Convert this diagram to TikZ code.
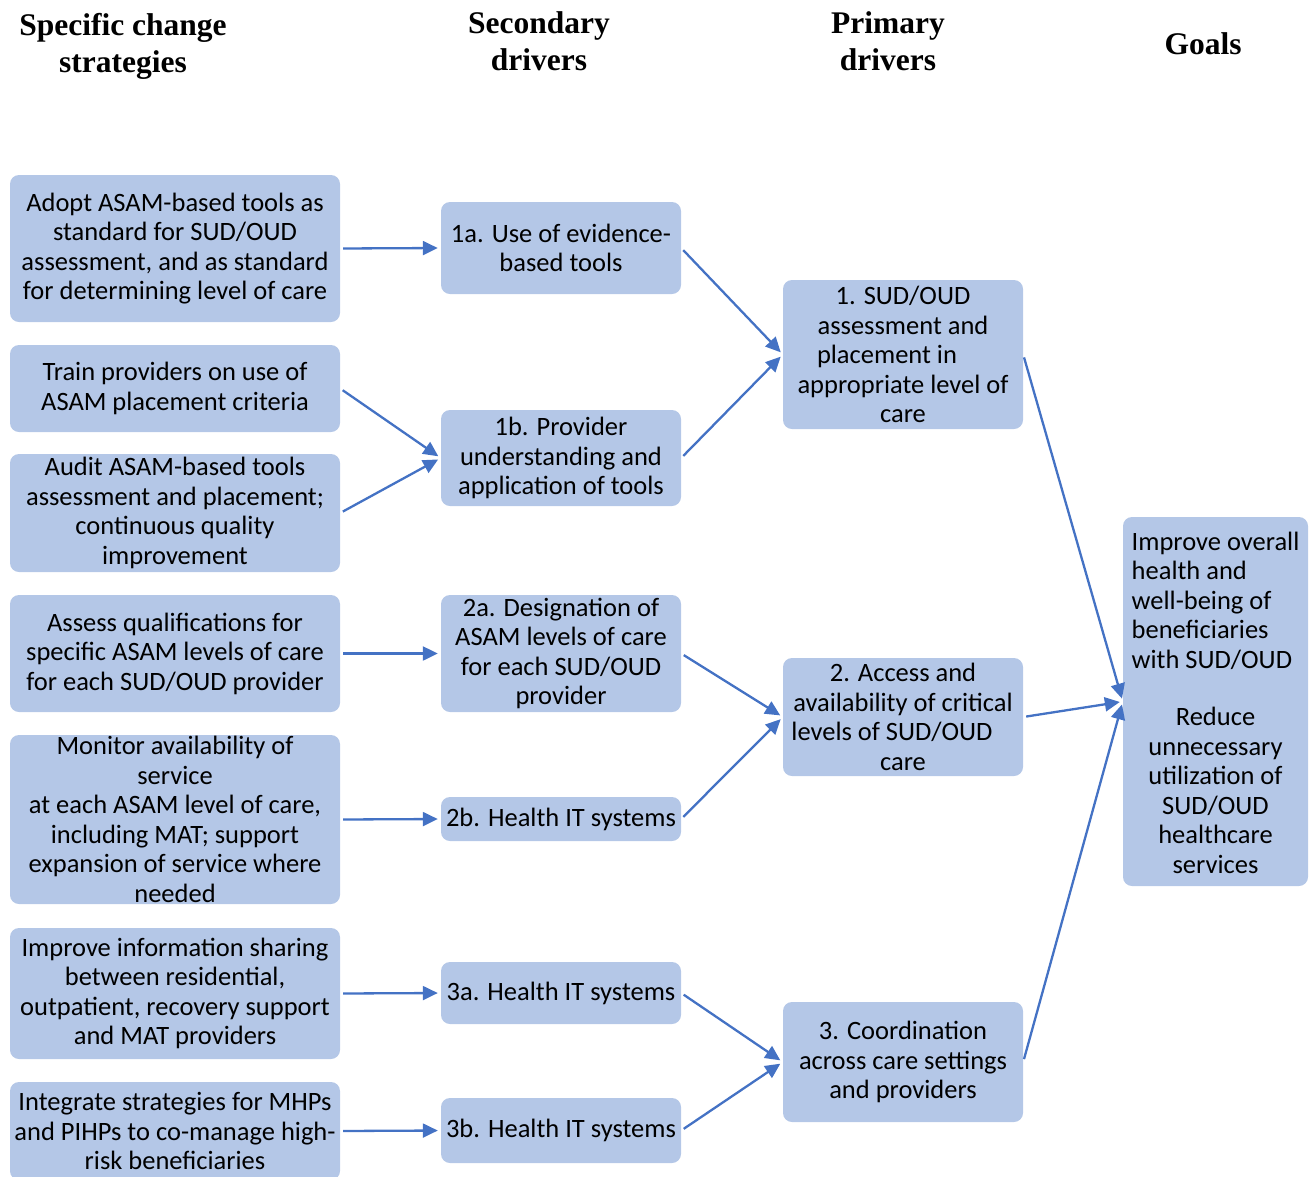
\documentclass[tikz,border=0pt]{standalone}
\usepackage{fontspec}
\setmainfont{Carlito}
\newfontfamily\headfont{Liberation Serif}
\usetikzlibrary{arrows.meta}

\definecolor{boxblue}{HTML}{B4C7E7}
\definecolor{arrowblue}{HTML}{4472C4}

\begin{document}
\begin{tikzpicture}[x=1pt,y=-1pt]
\tikzstyle{box}=[fill=boxblue,draw=none,rounded corners=9pt,align=center,inner sep=0pt,
  font=\fontsize{26.5}{29.5}\selectfont]
\tikzstyle{strat}=[box,minimum width=330pt]
\tikzstyle{second}=[box,minimum width=240pt]
\tikzstyle{prim}=[box,minimum width=240pt]
\tikzstyle{goalbox}=[box,minimum width=185pt,minimum height=369pt]
\tikzstyle{head}=[align=center,font=\headfont\bfseries\fontsize{31.5}{37}\selectfont]
\tikzstyle{arrow}=[draw=arrowblue,line width=2.3pt,shorten <=3pt,shorten >=3pt,
  -{Triangle[length=15pt,width=14pt]}]

\useasboundingbox (0,0) rectangle (1314,1176);

% column headings
\node (hstrat) [head] at (123,46) {Specific change\\strategies};
\node (hsec) [head] at (539,41) {Secondary\\drivers};
\node (hprim) [head] at (888,41) {Primary\\drivers};
\node (hgoal) [head] at (1203,44) {Goals};

% specific change strategies
\node (s1) [strat,minimum height=147pt] at (175,248.5) {Adopt ASAM-based tools as\\standard for SUD/OUD\\assessment, and as standard\\for determining level of care};
\node (s2) [strat,minimum height=87pt] at (175,388.5) {Train providers on use of\\ASAM placement criteria};
\node (s3) [strat,minimum height=118pt] at (175,513) {Audit ASAM-based tools\\assessment and placement;\\continuous quality\\improvement};
\node (s4) [strat,minimum height=117pt] at (175,653.5) {Assess qualifications for\\specific ASAM levels of care\\for each SUD/OUD provider};
\node (s5) [strat,minimum height=169pt] at (175,819.5) {Monitor availability of\\service\\at each ASAM level of care,\\including MAT; support\\expansion of service where\\needed};
\node (s6) [strat,minimum height=131pt] at (175,993.5) {Improve information sharing\\between residential,\\outpatient, recovery support\\and MAT providers};
\node (s7) [strat,minimum height=98pt] at (175,1131) {Integrate strategies for MHPs\\and PIHPs to co-manage high-\\risk beneficiaries};

% secondary drivers
\node (d1a) [second,minimum height=92pt] at (561,248) {1a. Use of evidence-\\based tools};
\node (d1b) [second,minimum height=96pt] at (561,458) {1b. Provider\\understanding and\\application of tools};
\node (d2a) [second,minimum height=117pt] at (561,653.5) {2a. Designation of\\ASAM levels of care\\for each SUD/OUD\\provider};
\node (d2b) [second,minimum height=44pt] at (561,819) {2b. Health IT systems};
\node (d3a) [second,minimum height=62pt] at (561,993) {3a. Health IT systems};
\node (d3b) [second,minimum height=65pt] at (561,1130.5) {3b. Health IT systems};

% primary drivers
\node (p1) [prim,minimum height=149pt] at (903,354.5) {1. SUD/OUD\\assessment and\\placement in\rule{32pt}{0pt}\\appropriate level of\\care};
\node (p2) [prim,minimum height=118pt] at (903,717) {2. Access and\\availability of critical\\levels of SUD/OUD\rule{22pt}{0pt}\\care};
\node (p3) [prim,minimum height=120pt] at (903,1062) {3. Coordination\\across care settings\\and providers};

% goals
\node (goal) [goalbox] at (1215.5,701.5) {\begin{tabular}{@{}l@{}}Improve overall\\health and\\well-being of\\beneficiaries\\with SUD/OUD\end{tabular}\\[29.5pt]
  Reduce\\unnecessary\\utilization of\\SUD/OUD\\healthcare\\services};

\foreach \a/\b in {s1/d1a,s2/d1b,s3/d1b,s4/d2a,s5/d2b,s6/d3a,s7/d3b,
  d1a/p1,d1b/p1,d2a/p2,d2b/p2,d3a/p3,d3b/p3,p1/goal,p2/goal,p3/goal}
  \draw [arrow] (\a.east) -- (\b.west);

\end{tikzpicture}
\end{document}
